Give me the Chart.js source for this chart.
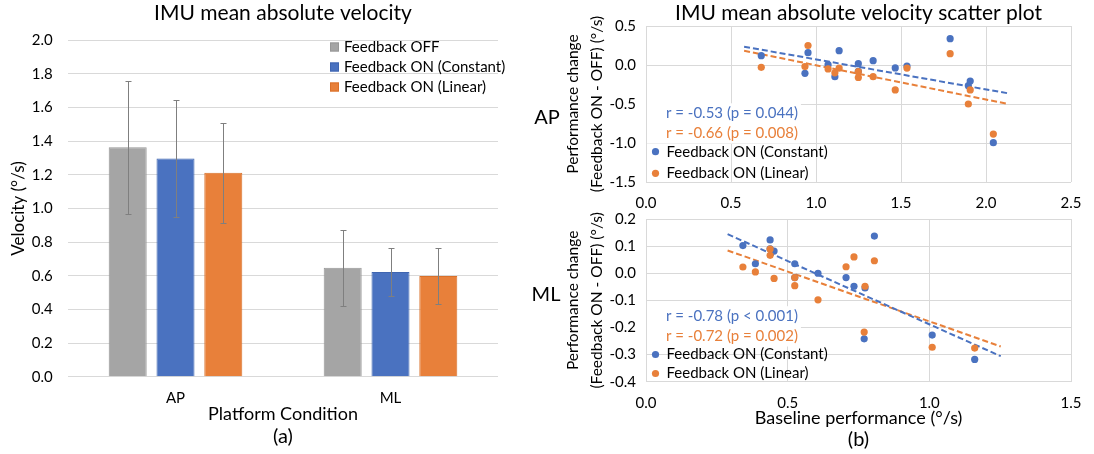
<!DOCTYPE html>
<html>
<head>
<meta charset="utf-8">
<script src="https://cdn.jsdelivr.net/npm/chart.js@4.4.1/dist/chart.umd.min.js"></script>
<style>
  body { margin: 0; background: #fff; }
  #wrap { position: relative; width: 1094px; height: 454px; overflow: hidden; font-family: Lato, sans-serif; }
  canvas { position: absolute; }
  #barChart { left: 0; top: 0; }
  #apChart { left: 530px; top: 0; }
  #mlChart { left: 530px; top: 200px; }
  .rowLabel { position: absolute; width: 40px; text-align: center; font-size: 20px; line-height: 20px; color: #000; }
</style>
</head>
<body>
<div id="wrap">
  <canvas id="barChart" width="540" height="454"></canvas>
  <canvas id="apChart" width="564" height="214"></canvas>
  <canvas id="mlChart" width="564" height="254"></canvas>
  <div class="rowLabel" style="left:527px;top:106px">AP</div>
  <div class="rowLabel" style="left:526px;top:283px">ML</div>
</div>
<script>
// ---- datos (a) ----
const conditions = ["AP", "ML"];
const seriesNames = ["Feedback OFF", "Feedback ON (Constant)", "Feedback ON (Linear)"];
const velOff = [1.364, 0.648];
const velConst = [1.298, 0.622];
const velLin = [1.213, 0.599];
const errOff = [0.395, 0.226];
const errConst = [0.347, 0.144];
const errLin = [0.297, 0.166];
const velTicks = [0, 2, 0.2];

// ---- datos (b) AP ----
const apBaseline = [0.678, 0.935, 0.953, 1.071, 1.111, 1.136, 1.249, 1.249, 1.336, 1.466, 1.535, 1.789, 1.896, 1.907, 2.043];
const apConst = [0.119, -0.107, 0.158, 0.004, -0.15, 0.184, 0.017, -0.08, 0.055, -0.038, -0.013, 0.337, -0.265, -0.205, -0.996];
const apLin = [-0.03, -0.02, 0.25, -0.05, -0.1, -0.04, -0.085, -0.16, -0.15, -0.32, -0.04, 0.145, -0.5, -0.32, -0.885];
const apTrendX = [0.577, 2.13];
const apTrendConst = [0.235, -0.363];
const apTrendLin = [0.183, -0.5];
const apStats = ["r = -0.53 (p = 0.044)", "r = -0.66 (p = 0.008)"];

// ---- datos (b) ML ----
const mlBaseline = [0.342, 0.386, 0.438, 0.438, 0.452, 0.525, 0.525, 0.607, 0.706, 0.734, 0.77, 0.773, 0.806, 1.01, 1.16];
const mlConst = [0.102, 0.035, 0.123, 0.09, 0.082, 0.035, -0.016, 0.0, -0.016, -0.048, -0.242, -0.054, 0.137, -0.228, -0.318];
const mlLin = [0.023, 0.005, 0.089, 0.066, -0.019, -0.016, -0.046, -0.098, 0.024, 0.06, -0.217, -0.048, 0.046, -0.273, -0.276];
const mlTrendX = [0.288, 1.252];
const mlTrendConst = [0.144, -0.306];
const mlTrendLin = [0.084, -0.27];
const mlStats = ["r = -0.78 (p < 0.001)", "r = -0.72 (p = 0.002)"];

const GRAY = "#A5A5A5";
const BLUE = "#4A72C0";
const ORANGE = "#E8803A";
const GRID = "#d9d9d9";
const FONT = "Lato";

Chart.defaults.font.family = FONT;
Chart.defaults.color = "#000";
Chart.defaults.animation = false;

const fmt1 = (v) => (Math.abs(v) < 1e-9 ? "0.0" : Number(v).toFixed(1));
const toPoints = (xs, ys) => xs.map((x, i) => ({ x: x, y: ys[i] }));

// barras de error
const errorBars = {
  id: "errorBars",
  afterDatasetsDraw(chart, args, opts) {
    const { ctx } = chart;
    const y = chart.scales.y;
    ctx.save();
    ctx.strokeStyle = opts.color;
    ctx.lineWidth = 1;
    chart.data.datasets.forEach((ds, i) => {
      chart.getDatasetMeta(i).data.forEach((bar, j) => {
        const top = Math.round(y.getPixelForValue(ds.data[j] + ds.errors[j])) + 0.5;
        const bot = Math.round(y.getPixelForValue(ds.data[j] - ds.errors[j])) + 0.5;
        const x = Math.round(bar.x) + 0.5;
        ctx.beginPath();
        ctx.moveTo(x, top);
        ctx.lineTo(x, bot);
        ctx.moveTo(x - opts.cap, top);
        ctx.lineTo(x + opts.cap, top);
        ctx.moveTo(x - opts.cap, bot);
        ctx.lineTo(x + opts.cap, bot);
        ctx.stroke();
      });
    });
    ctx.restore();
  },
};

// leyenda dentro del area del grafico
const boxLegend = {
  id: "boxLegend",
  afterDraw(chart, args, opts) {
    const { ctx, chartArea } = chart;
    ctx.save();
    ctx.font = opts.font;
    ctx.textBaseline = "middle";
    ctx.textAlign = "left";
    chart.data.datasets
      .filter((ds) => !ds.showLine)
      .forEach((ds, i) => {
        const x = chartArea.left + opts.x;
        const y = chartArea.top + opts.y + i * opts.gap;
        ctx.fillStyle = ds.backgroundColor;
        if (opts.marker === "square") {
          ctx.fillRect(x, y - opts.size / 2, opts.size, opts.size);
          ctx.strokeStyle = ds.borderColor;
          ctx.lineWidth = 1;
          ctx.strokeRect(x + 0.5, y - opts.size / 2 + 0.5, opts.size - 1, opts.size - 1);
        } else {
          ctx.beginPath();
          ctx.arc(x, y, opts.size, 0, Math.PI * 2);
          ctx.fill();
        }
        ctx.fillStyle = "#000";
        ctx.fillText(ds.label, x + opts.textGap, y);
      });
    ctx.restore();
  },
};

// textos r / p con fondo blanco
const statNotes = {
  id: "statNotes",
  beforeDatasetsDraw(chart, args, opts) {
    const { ctx, chartArea } = chart;
    ctx.save();
    ctx.font = opts.font;
    const w = Math.max(...opts.lines.map((t) => ctx.measureText(t).width));
    const x = chartArea.left + opts.x;
    const y0 = chartArea.top + opts.y - 10;
    const y1 = chartArea.top + opts.y + (opts.lines.length - 1) * opts.gap + 10;
    ctx.fillStyle = "#fff";
    ctx.fillRect(chartArea.left + 1, y0, x + w + 2 - chartArea.left, y1 - y0);
    ctx.restore();
  },
  afterDraw(chart, args, opts) {
    const { ctx, chartArea } = chart;
    ctx.save();
    ctx.font = opts.font;
    ctx.textBaseline = "middle";
    ctx.textAlign = "left";
    opts.lines.forEach((t, i) => {
      ctx.fillStyle = opts.colors[i];
      ctx.fillText(t, chartArea.left + opts.x, chartArea.top + opts.y + i * opts.gap);
    });
    ctx.restore();
  },
};

// ---- (a) grafico de barras ----
const barDataset = (label, data, errors, color, border) => ({
  label: label,
  data: data,
  errors: errors,
  backgroundColor: color,
  borderColor: border,
  borderWidth: 1,
  categoryPercentage: 0.667,
  barPercentage: 0.795,
});

const barConfig = {
  type: "bar",
  data: {
    labels: conditions,
    datasets: [
      barDataset(seriesNames[0], velOff, errOff, GRAY, "#979797"),
      barDataset(seriesNames[1], velConst, errConst, BLUE, "#3f65b0"),
      barDataset(seriesNames[2], velLin, errLin, ORANGE, "#d9702a"),
    ],
  },
  options: {
    responsive: false,
    layout: { padding: { left: 0, right: 42, top: 0, bottom: 0 } },
    scales: {
      x: {
        grid: { display: false, drawTicks: false },
        border: { display: false },
        ticks: { padding: 12.3, font: { size: 15 } },
        title: { display: true, text: "Platform Condition", font: { size: 18 }, padding: 0 },
        afterFit: (s) => { s.height = 48.1; },
      },
      y: {
        min: velTicks[0],
        max: velTicks[1],
        ticks: { stepSize: velTicks[2], callback: fmt1, padding: 15.3, font: { size: 15 } },
        grid: { color: GRID, drawTicks: false },
        border: { display: false },
        title: { display: true, text: "Velocity (°/s)", font: { size: 17 }, padding: { top: 8.8, bottom: 0 } },
        afterFit: (s) => { s.width = 68; },
      },
    },
    plugins: {
      legend: { display: false },
      tooltip: { enabled: false },
      title: {
        display: true,
        text: "IMU mean absolute velocity",
        fullSize: false,
        font: { size: 21, weight: "normal", lineHeight: 1.2 },
        padding: { top: 0.4, bottom: 14.7 },
      },
      subtitle: {
        display: true,
        position: "bottom",
        text: "(a)",
        fullSize: false,
        font: { size: 20, lineHeight: 1 },
        padding: { top: 1.7, bottom: 7.5 },
      },
      errorBars: { color: "#7f7f7f", cap: 3 },
      boxLegend: { marker: "square", font: "15px " + FONT, x: 262, y: 6.7, gap: 20, size: 9, textGap: 14 },
    },
  },
  plugins: [errorBars, boxLegend],
};

new Chart(document.getElementById("barChart"), barConfig);

// ---- (b) graficos de dispersion ----
const pointSet = (label, xs, ys, color, order) => ({
  label: label,
  data: toPoints(xs, ys),
  backgroundColor: color,
  borderWidth: 0,
  pointRadius: 3.6,
  pointHoverRadius: 3.6,
  order: order,
});

const trendSet = (xs, ys, color) => ({
  data: toPoints(xs, ys),
  showLine: true,
  borderColor: color,
  borderWidth: 2,
  borderDash: [6, 3],
  pointRadius: 0,
  order: 5,
});

const yTitle = {
  display: true,
  text: ["Performance change", "(Feedback ON - OFF) (°/s)"],
  font: { size: 15.5, lineHeight: 1.55 },
  padding: { top: 31, bottom: 0 },
};

const scatterConfig = (xs, cs, ls, tx, tc, tl, stats, xr, yr, extra) => ({
  type: "scatter",
  data: {
    datasets: [
      pointSet(seriesNames[1], xs, cs, BLUE, 1),
      pointSet(seriesNames[2], xs, ls, ORANGE, 0),
      trendSet(tx, tc, BLUE),
      trendSet(tx, tl, ORANGE),
    ],
  },
  options: {
    responsive: false,
    layout: { padding: { left: 0, right: 13, top: extra.padTop, bottom: 0 } },
    scales: {
      x: {
        type: "linear",
        min: xr[0],
        max: xr[1],
        ticks: { stepSize: xr[2], callback: fmt1, padding: 12.5, font: { size: 15 } },
        grid: { color: GRID, drawTicks: false },
        border: { display: false },
        title: extra.xTitle,
        afterFit: (s) => { s.height = extra.xHeight; },
      },
      y: {
        min: yr[0],
        max: yr[1],
        ticks: { stepSize: yr[2], callback: fmt1, padding: 10, font: { size: 15 } },
        grid: { color: GRID, drawTicks: false },
        border: { display: false },
        title: yTitle,
        afterFit: (s) => { s.width = 116; },
      },
    },
    plugins: {
      legend: { display: false },
      tooltip: { enabled: false },
      title: extra.title,
      subtitle: extra.subtitle,
      statNotes: { lines: stats, colors: [BLUE, ORANGE], font: "15px " + FONT, x: 20, y: extra.statY, gap: 20.3 },
      boxLegend: { marker: "dot", font: "15px " + FONT, x: 9.5, y: extra.legY, gap: extra.legGap, size: 3.6, textGap: 11 },
    },
  },
  plugins: [statNotes, boxLegend],
});

new Chart(
  document.getElementById("apChart"),
  scatterConfig(apBaseline, apConst, apLin, apTrendX, apTrendConst, apTrendLin, apStats, [0, 2.5, 0.5], [-1.5, 0.5, 0.5], {
    padTop: 0,
    xHeight: 32,
    xTitle: { display: false },
    title: {
      display: true,
      text: "IMU mean absolute velocity scatter plot",
      fullSize: false,
      font: { size: 21, weight: "normal", lineHeight: 1.2 },
      padding: { top: 0.4, bottom: 0.4 },
    },
    subtitle: { display: false },
    statY: 87.3,
    legY: 125.7,
    legGap: 21.6,
  })
);

new Chart(
  document.getElementById("mlChart"),
  scatterConfig(mlBaseline, mlConst, mlLin, mlTrendX, mlTrendConst, mlTrendLin, mlStats, [0, 1.5, 0.5], [-0.4, 0.2, 0.1], {
    padTop: 14.5,
    xHeight: 47.6,
    xTitle: { display: true, text: "Baseline performance (°/s)", font: { size: 18 }, padding: 0 },
    title: { display: false },
    subtitle: {
      display: true,
      position: "bottom",
      text: "(b)",
      fullSize: false,
      font: { size: 20, lineHeight: 1 },
      padding: { top: 0.4, bottom: 4.3 },
    },
    statY: 97.2,
    legY: 135.5,
    legGap: 19,
  })
);
</script>
</body>
</html>
